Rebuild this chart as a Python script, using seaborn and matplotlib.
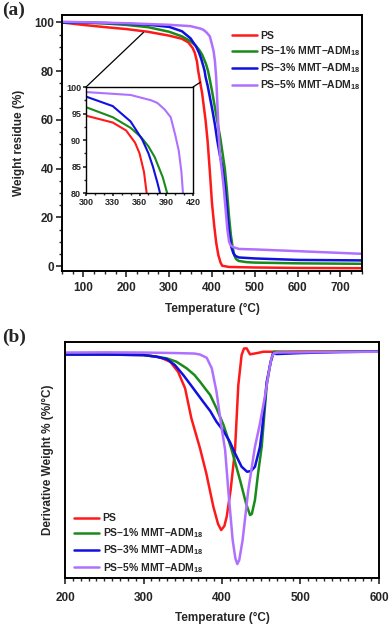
import numpy as np
import pandas as pd
import seaborn as sns
import matplotlib.pyplot as plt
from matplotlib.patches import ConnectionPatch
from matplotlib.ticker import MultipleLocator

# ---- TGA data (panel a) ----
labels = ["PS", "PS\u20131% MMT\u2013ADM$_{18}$", "PS\u20133% MMT\u2013ADM$_{18}$", "PS\u20135% MMT\u2013ADM$_{18}$"]
colors = ["#ff1a1a", "#1a8a1a", "#1010e0", "#b070ff"]

ps_T = [50, 100, 150, 200, 250, 300, 330, 345, 355, 360, 365, 368, 373, 377, 385, 390, 395,
        400, 405, 410, 415, 420, 424, 440, 500, 600, 750]
ps_W = [100, 99.0, 98.1, 97.3, 96.2, 94.6, 93.3, 91.8, 89.5, 87.5, 84, 80, 75, 71, 60, 51, 39,
        26, 17, 9.5, 4.5, 1.5, 0.2, -0.3, -0.5, -0.7, -0.8]

mmt1_T = [50, 100, 150, 200, 250, 300, 330, 350, 362, 370, 377, 386, 391, 395, 400, 408, 415,
          420, 425, 430, 435, 440, 444, 448, 452, 456, 462, 480, 500, 600, 750]
mmt1_W = [100, 99.9, 99.6, 99.0, 98.1, 96.2, 94.3, 92.3, 90.5, 88.8, 86.8, 83, 80, 76.5, 72, 64, 57,
          52, 46, 40, 31, 20, 13, 8, 4.5, 3, 2.2, 1.7, 1.5, 1.2, 1.0]

mmt3_T = [50, 100, 150, 200, 250, 300, 330, 350, 363, 370, 375, 380, 383, 385, 390, 395, 401,
          407, 412, 418, 424, 430, 436, 440, 445, 450, 455, 463, 500, 600, 750]
mmt3_W = [100, 100, 99.8, 99.5, 99.1, 98.2, 96.4, 93.5, 90.1, 87.5, 85, 82, 80, 77.7, 74, 69.5, 64,
          58, 52, 46, 41, 33, 22, 14, 8, 5.3, 4.2, 3.6, 3.2, 2.6, 2.4]

mmt5_T = [50, 100, 200, 300, 350, 373, 380, 388, 395, 400, 404, 407, 410, 413, 416, 419, 422,
          427, 431, 436, 440, 444, 450, 463, 500, 600, 750]
mmt5_W = [100.3, 100.1, 99.7, 99.05, 98.5, 97.5, 97, 95.8, 94.3, 91, 88, 84, 77, 65, 53, 45, 41,
          33, 25, 15, 10, 8.5, 7.8, 7.1, 6.9, 6.2, 5.1]

# ---- DTG data (panel b), arbitrary units ----
ps_dT = [200, 250, 300, 320, 334, 344, 353, 361, 372, 380, 389, 395, 399, 403, 406, 411, 416.6,
         420.8, 425, 428, 431.4, 435.7, 445, 452.6, 470, 500, 550, 600]
ps_dW = [-0.025, -0.025, -0.03, -0.05, -0.097, -0.197, -0.363, -0.663, -0.963, -1.213, -1.547,
         -1.72, -1.78, -1.74, -1.647, -1.38, -0.98, -0.33, -0.03, 0.035, 0.037, -0.023, -0.01,
         0.003, 0.003, 0.005, 0.005, 0.005]

mmt1_dT = [200, 250, 300, 315, 329.5, 342, 355, 365, 372, 380, 385, 393, 402, 412, 423, 430.6,
           435.7, 438, 442, 446, 450.6, 457, 462, 466, 480, 500, 550, 600]
mmt1_dW = [-0.025, -0.025, -0.03, -0.045, -0.063, -0.097, -0.163, -0.23, -0.297, -0.38, -0.43,
           -0.563, -0.73, -0.97, -1.28, -1.513, -1.63, -1.62, -1.48, -1.213, -0.947, -0.33,
           -0.10, 0.003, 0.0, 0.0, 0.003, 0.005]

mmt3_dT = [200, 250, 300, 315, 329.5, 340, 350.7, 363.4, 376, 385, 393, 402, 410, 416.6, 425,
           432, 437, 442, 448.4, 451, 457, 462, 465, 470, 500, 550, 600]
mmt3_dW = [-0.025, -0.025, -0.03, -0.045, -0.07, -0.13, -0.23, -0.363, -0.497, -0.59, -0.697,
           -0.79, -0.897, -1.013, -1.147, -1.197, -1.19, -1.147, -0.947, -0.78, -0.297, -0.10,
           -0.013, -0.02, -0.01, 0.0, 0.005]

mmt5_dT = [200, 250, 300, 340, 365, 372, 380.5, 387, 393, 399.6, 404, 408, 413.6, 417, 419.5,
           422, 426.3, 433.5, 442, 448, 455, 459, 463, 466, 470, 500, 550, 600]
mmt5_dW = [-0.005, -0.003, -0.005, -0.01, -0.015, -0.025, -0.057, -0.163, -0.397, -0.763,
           -0.98, -1.38, -1.88, -2.06, -2.12, -2.08, -1.88, -1.38, -0.947, -0.73, -0.43, -0.23,
           -0.06, -0.013, -0.005, -0.003, 0.0, 0.003]

tga = pd.concat([
    pd.DataFrame({"T": t, "W": w, "sample": lab})
    for t, w, lab in zip([ps_T, mmt1_T, mmt3_T, mmt5_T], [ps_W, mmt1_W, mmt3_W, mmt5_W], labels)
])
dtg = pd.concat([
    pd.DataFrame({"T": t, "W": w, "sample": lab})
    for t, w, lab in zip([ps_dT, mmt1_dT, mmt3_dT, mmt5_dT], [ps_dW, mmt1_dW, mmt3_dW, mmt5_dW], labels)
])
palette = dict(zip(labels, colors))

sns.set_style("ticks")
plt.rcParams["font.family"] = ["Liberation Sans", "DejaVu Sans"]
plt.rcParams["font.weight"] = "bold"
plt.rcParams["axes.labelweight"] = "bold"
plt.rcParams["mathtext.fontset"] = "custom"
plt.rcParams["mathtext.bf"] = "Liberation Sans:bold"
plt.rcParams["mathtext.rm"] = "Liberation Sans:bold"
plt.rcParams["mathtext.default"] = "bf"

fig = plt.figure(figsize=(3.9, 6.32), dpi=100)
ax1 = fig.add_axes([0.159, 0.571, 0.769, 0.405])
ax2 = fig.add_axes([0.1667, 0.0854, 0.805, 0.3734])
axin = fig.add_axes([0.2205, 0.6946, 0.2744, 0.1677])


def style_axis(ax, size=8, major=4, minor=2.5):
    for s in ax.spines.values():
        s.set_linewidth(1.4)
        s.set_color("black")
    ax.tick_params(which="major", direction="out", length=major, width=1.2, labelsize=size, pad=2)
    ax.tick_params(which="minor", direction="out", length=minor, width=1.0)


# ---- panel (a) ----
sns.lineplot(data=tga, x="T", y="W", hue="sample", palette=palette, hue_order=labels,
             linewidth=1.8, ax=ax1)
ax1.set_xlim(50, 750)
ax1.set_ylim(-2, 103)
ax1.xaxis.set_major_locator(MultipleLocator(100))
ax1.xaxis.set_minor_locator(MultipleLocator(25))
ax1.yaxis.set_major_locator(MultipleLocator(20))
ax1.yaxis.set_minor_locator(MultipleLocator(5))
ax1.set_xlabel("Temperature (\u00b0C)", fontsize=8.5, labelpad=6)
ax1.set_ylabel("Weight residue (%)", fontsize=8.5, labelpad=6)
style_axis(ax1, size=8.5)
ax1.tick_params(axis="x", pad=4)
h, l = ax1.get_legend_handles_labels()
for hh in h:
    hh.set_linewidth(1.8)
ax1.legend(h, l, loc="upper left", bbox_to_anchor=(0.535, 0.975), frameon=False,
           fontsize=7.5, handlelength=2.4, handletextpad=0.3, labelspacing=0.32)

# inset
sns.lineplot(data=tga, x="T", y="W", hue="sample", palette=palette, hue_order=labels,
             linewidth=1.5, ax=axin, legend=False)
axin.set_xlim(300, 420)
axin.set_ylim(80, 100)
axin.xaxis.set_major_locator(MultipleLocator(30))
axin.xaxis.set_minor_locator(MultipleLocator(10))
axin.yaxis.set_major_locator(MultipleLocator(5))
axin.yaxis.set_minor_locator(MultipleLocator(2.5))
axin.set_xlabel("")
axin.set_ylabel("")
style_axis(axin, size=6.5, major=2.5, minor=1.5)
for s in axin.spines.values():
    s.set_linewidth(1.0)
axin.tick_params(pad=1)

for xa, xb in [((300, 100), (240, 95.9)), ((420, 100), (373, 75.5))]:
    con = ConnectionPatch(xyA=xa, coordsA=axin.transData, xyB=xb, coordsB=ax1.transData,
                          color="black", linewidth=0.9)
    fig.add_artist(con)

# ---- panel (b) ----
sns.lineplot(data=dtg, x="T", y="W", hue="sample", palette=palette, hue_order=labels,
             linewidth=1.8, ax=ax2)
ax2.set_xlim(200, 600)
ax2.set_ylim(-2.26, 0.1)
ax2.xaxis.set_major_locator(MultipleLocator(100))
ax2.xaxis.set_minor_locator(MultipleLocator(10))
ax2.set_yticks([])
ax2.set_xlabel("Temperature (\u00b0C)", fontsize=8.5, labelpad=6)
ax2.set_ylabel("Derivative Weight % (%/\u00b0C)", fontsize=8.5, labelpad=8)
style_axis(ax2, size=8.5)
ax2.tick_params(axis="x", pad=6)
h, l = ax2.get_legend_handles_labels()
for hh in h:
    hh.set_linewidth(1.8)
ax2.legend(h, l, loc="lower left", bbox_to_anchor=(0.0, -0.025), frameon=False,
           fontsize=7.5, handlelength=2.4, handletextpad=0.3, labelspacing=0.32)

fig.text(0.005, 0.997, "(a)", va="top", ha="left", fontsize=14, weight="bold",
         family="Liberation Serif")
fig.text(0.005, 0.48, "(b)", va="top", ha="left", fontsize=14, weight="bold",
         family="Liberation Serif")

plt.savefig("out.png", dpi=100)
